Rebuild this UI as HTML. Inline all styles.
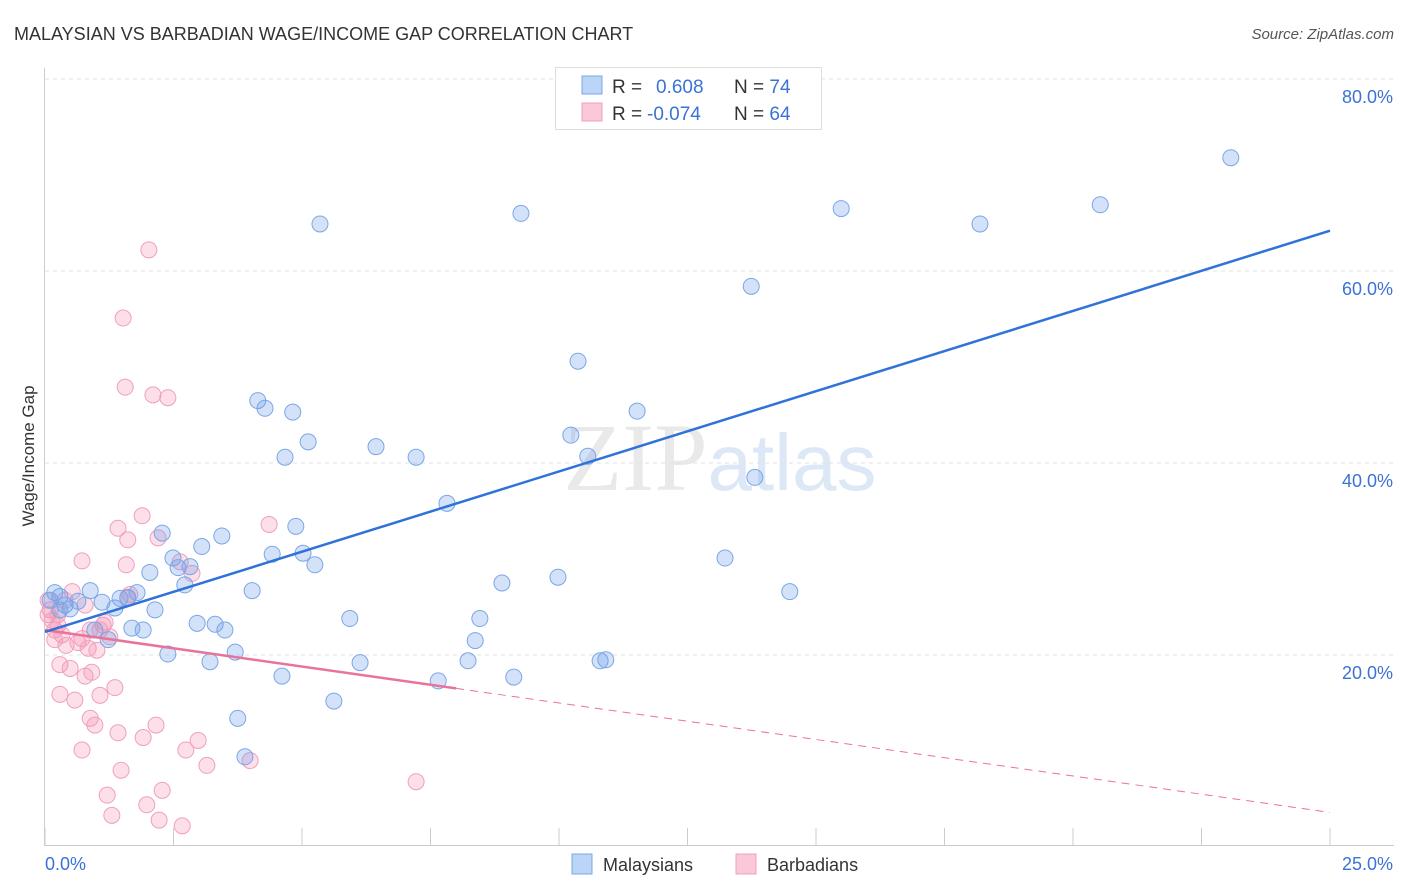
<!DOCTYPE html>
<html><head><meta charset="utf-8"><style>
body{margin:0;background:#fff;font-family:"Liberation Sans",sans-serif;}
#wrap{position:relative;width:1406px;height:892px;overflow:hidden;}
</style></head><body>
<div id="wrap">
<svg id="chart" width="1406" height="892" xmlns="http://www.w3.org/2000/svg">
<text x="14" y="40" font-size="18" fill="#333">MALAYSIAN VS BARBADIAN WAGE/INCOME GAP CORRELATION CHART</text>
<text x="1394" y="39" font-size="15" fill="#555" font-style="italic" text-anchor="end">Source: ZipAtlas.com</text>
<text x="720" y="490" font-size="96" fill="#e9e9e9" text-anchor="middle" font-family="Liberation Serif,serif">ZIP<tspan fill="#dde8f6" font-family="Liberation Sans,sans-serif" font-size="80">atlas</tspan></text>
<g id="grid"></g><g id="axes"></g><g id="marks"></g>
<text transform="translate(34,456) rotate(-90)" font-size="17" fill="#333" text-anchor="middle">Wage/Income Gap</text>
<g>
<rect x="555.5" y="67.5" width="266" height="62" fill="#fff" stroke="#ddd"/>
<rect x="582" y="76" width="20" height="18" fill="#bcd5f7" stroke="#7aa7e6"/>
<rect x="582" y="103" width="20" height="18" fill="#fbc8d8" stroke="#f0a0bb"/>
<text x="612" y="93" font-size="19" fill="#333">R = <tspan x="656" fill="#3a72d6">0.608</tspan><tspan x="734" fill="#333">N = </tspan><tspan fill="#3a72d6">74</tspan></text>
<text x="612" y="120" font-size="19" fill="#333">R = <tspan x="647" fill="#3a72d6">-0.074</tspan><tspan x="734" fill="#333">N = </tspan><tspan fill="#3a72d6">64</tspan></text>
</g>
<g>
<rect x="572" y="854" width="20" height="20" fill="#bcd5f7" stroke="#7aa7e6"/>
<text x="603" y="871" font-size="18" fill="#333">Malaysians</text>
<rect x="736" y="854" width="20" height="20" fill="#fbc8d8" stroke="#f0a0bb"/>
<text x="767" y="871" font-size="18" fill="#333">Barbadians</text>
</g>
</svg></div>
<script>
const blueX=[0.19,0.29,0.39,0.49,0.64,0.88,0.97,1.11,1.23,1.36,1.46,1.61,1.79,1.69,1.91,2.04,2.14,2.28,2.39,2.49,2.59,2.72,2.82,2.96,3.05,3.21,3.31,3.44,3.50,3.70,3.75,3.89,4.03,4.14,4.28,4.42,4.61,4.67,4.82,4.88,5.02,5.12,5.25,5.35,5.62,5.93,6.13,6.44,7.22,7.65,7.82,8.23,8.37,8.46,8.89,9.12,9.26,9.98,10.23,10.37,10.56,10.80,10.91,11.52,13.23,13.81,13.74,14.49,15.49,18.19,20.53,23.07,0.10,0.29];
const blueY=[26.5,26.1,25.2,24.8,25.6,26.7,22.6,25.5,21.6,24.9,25.9,26.0,26.5,22.8,22.6,28.6,24.7,32.7,20.1,30.1,29.1,27.3,29.2,23.3,31.3,19.3,23.2,32.4,22.6,20.3,13.4,9.4,26.7,46.5,45.7,30.5,17.8,40.6,45.3,33.4,30.6,42.2,29.4,64.9,15.2,23.8,19.2,41.7,40.6,17.3,35.8,19.4,21.5,23.8,27.5,17.7,66.0,28.1,42.9,50.6,40.7,19.4,19.5,45.4,30.1,38.5,58.4,26.6,66.5,64.9,66.9,71.8,25.7,24.7];
const pinkX=[0.10,0.14,0.19,0.25,0.33,0.06,0.29,0.29,0.41,0.49,0.53,0.58,0.64,0.72,0.72,0.78,0.78,0.84,0.88,0.91,0.97,1.01,1.07,1.13,1.17,1.26,1.36,1.42,1.42,1.48,1.52,1.56,1.61,1.58,1.61,1.65,1.21,1.30,1.89,1.91,1.98,2.02,2.10,2.16,2.20,2.22,2.28,2.39,2.63,2.67,2.74,2.86,2.98,3.15,3.99,4.36,7.22,0.19,0.39,0.88,1.07,0.06,0.25,0.72];
const pinkY=[24.7,23.6,22.6,23.1,22.1,25.7,19.0,15.9,21.0,18.6,26.6,15.3,21.3,21.7,29.8,25.2,17.8,20.7,13.4,18.2,12.7,20.5,15.8,23.1,23.4,21.9,16.6,11.9,33.2,8.0,55.1,47.9,32.0,29.4,25.9,26.3,5.4,3.3,34.5,11.4,4.4,62.2,47.1,12.7,32.2,2.8,5.9,46.8,29.7,2.2,10.1,28.5,11.1,8.5,9.0,33.6,6.8,21.6,25.7,22.6,22.6,24.2,24.2,10.1];
const yTicks=[20,40,60,80];
const xTickLabels=["0.0%","25.0%"];
const blueTrend=[22.4,64.2];
const pinkTrend=[22.6,3.6];
const pinkSolidEnd=8.0;

const NS="http://www.w3.org/2000/svg";
const xs=v=>45+v*51.4, ys=v=>847-v*9.6;
function mk(t,a,p){const e=document.createElementNS(NS,t);for(const k in a)e.setAttribute(k,a[k]);p.appendChild(e);return e;}
const grid=document.getElementById('grid'),axes=document.getElementById('axes'),marks=document.getElementById('marks');
yTicks.forEach(t=>{
 const l=mk('line',{x1:45,x2:1394,y1:ys(t),y2:ys(t),stroke:'#e2e2e2','stroke-dasharray':'4,4'},grid);
 
 
 const tx=mk('text',{x:1393,y:ys(t)+24,'font-size':18,fill:'#3a72d6','text-anchor':'end'},axes);
 tx.textContent=t.toFixed(1)+'%';
 
 
});
mk('line',{x1:44.5,x2:44.5,y1:68,y2:846,stroke:'#ccc'},axes);
mk('line',{x1:44,x2:1394,y1:845.5,y2:845.5,stroke:'#ccc'},axes);
for(let i=0;i<=10;i++){mk('line',{x1:xs(i*2.5),x2:xs(i*2.5),y1:828,y2:846,stroke:'#ccc'},axes);}
const xl0=mk('text',{x:45,y:870,'font-size':18,fill:'#3a72d6'},axes);xl0.textContent=xTickLabels[0];


const xl1=mk('text',{x:1393,y:870,'font-size':18,fill:'#3a72d6','text-anchor':'end'},axes);xl1.textContent=xTickLabels[1];


pinkX.forEach((x,i)=>{const c=mk('circle',{cx:xs(x),cy:ys(pinkY[i]),r:8,fill:'rgba(244,150,180,0.3)',stroke:'#f0a0bb','stroke-width':1},marks);
 
 });
blueX.forEach((x,i)=>{const c=mk('circle',{cx:xs(x),cy:ys(blueY[i]),r:8,fill:'rgba(110,160,235,0.3)',stroke:'#7aa7e6','stroke-width':1},marks);
 
 });
const pAt=v=>pinkTrend[0]+(pinkTrend[1]-pinkTrend[0])*v/25;
const pd=mk('line',{x1:xs(pinkSolidEnd),y1:ys(pAt(pinkSolidEnd)),x2:xs(25),y2:ys(pinkTrend[1]),stroke:'#e8739b','stroke-width':1,'stroke-dasharray':'8,6'},marks);


const ps=mk('line',{x1:xs(0),y1:ys(pinkTrend[0]),x2:xs(pinkSolidEnd),y2:ys(pAt(pinkSolidEnd)),stroke:'#e8739b','stroke-width':2.5},marks);


const bl=mk('line',{x1:xs(0),y1:ys(blueTrend[0]),x2:xs(25),y2:ys(blueTrend[1]),stroke:'#2f72d8','stroke-width':2.5},marks);


</script>
</body></html>
